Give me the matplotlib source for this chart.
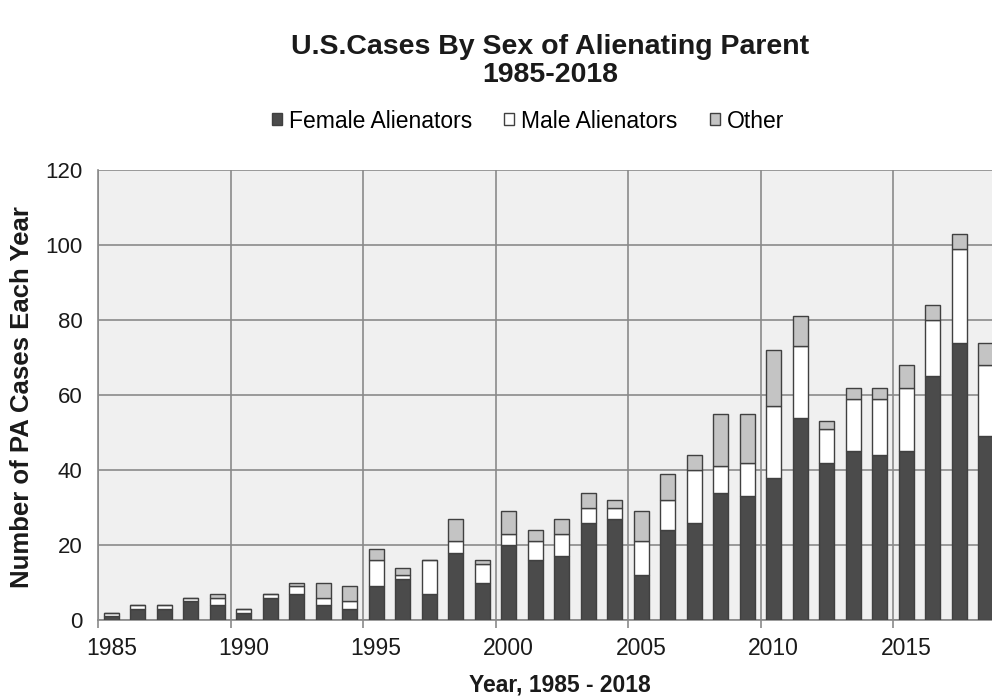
import numpy as np
import matplotlib
matplotlib.use("Agg")
import matplotlib.pyplot as plt
from matplotlib.patches import Patch

plt.rcParams['font.family'] = ['Liberation Sans', 'DejaVu Sans']

# data
years = list(range(1985, 2019))
female = [1, 3, 3, 5, 4, 2, 6, 7, 4, 3, 9, 11, 7, 18, 10, 20, 16, 17, 26, 27,
          12, 24, 26, 34, 33, 38, 54, 42, 45, 44, 45, 65, 74, 49]
male = [1, 1, 1, 1, 2, 1, 1, 2, 2, 2, 7, 1, 9, 3, 5, 3, 5, 6, 4, 3,
        9, 8, 14, 7, 9, 19, 19, 9, 14, 15, 17, 15, 25, 19]
other = [0, 0, 0, 0, 1, 0, 0, 1, 4, 4, 3, 2, 0, 6, 1, 6, 3, 4, 4, 2,
         8, 7, 4, 14, 13, 15, 8, 2, 3, 3, 6, 4, 4, 6]
series_names = ['Female Alienators', 'Male Alienators', 'Other']
tick_years = years[::5]

colors = ['#4b4b4b', '#ffffff', '#c4c4c4']
edge = '#404040'
grid_col = '#8a8a8a'

fig = plt.figure(figsize=(9.92, 6.98), dpi=100)
ax = fig.add_axes([98 / 992, 78 / 698, 901 / 992, 450 / 698])
ax.set_facecolor('#f0f0f0')

x = np.arange(len(years))
female = np.array(female)
male = np.array(male)
other = np.array(other)
bw = 0.56
ax.bar(x, female, bw, color=colors[0], edgecolor=edge, linewidth=1, zorder=3)
ax.bar(x, male, bw, bottom=female, color=colors[1], edgecolor=edge, linewidth=1, zorder=3)
ax.bar(x, other, bw, bottom=female + male, color=colors[2], edgecolor=edge, linewidth=1, zorder=3)

ax.set_xlim(-0.5, len(years) - 0.5)
ax.set_ylim(0, 120)
ax.set_yticks(range(0, 121, 20))
ax.set_xticks([years.index(y) for y in tick_years])
ax.set_xticklabels([str(y) for y in tick_years])
ax.set_xticks(np.arange(-0.5, len(years), 5), minor=True)

ax.grid(True, axis='y', which='major', color=grid_col, linewidth=1.2, zorder=0)
ax.grid(True, axis='x', which='minor', color=grid_col, linewidth=1.2, zorder=0)
ax.set_axisbelow(True)

ax.tick_params(axis='x', which='major', length=0, pad=12, labelsize=16.5, colors='#1a1a1a')
ax.tick_params(axis='x', which='minor', length=6, width=1.2, color=grid_col)
ax.tick_params(axis='y', length=0, pad=11, labelsize=16, colors='#1a1a1a')

for s in ['top', 'right']:
    ax.spines[s].set_visible(False)
for s in ['left', 'bottom']:
    ax.spines[s].set_color(grid_col)
    ax.spines[s].set_linewidth(1.2)

fig.text(550 / 992, 1 - 61 / 698, 'U.S.Cases By Sex of Alienating Parent\n1985-2018',
         ha='center', va='center', fontsize=20.5, fontweight='bold',
         linespacing=1.1, color='#1a1a1a')

handles = [Patch(facecolor=c, edgecolor=edge, linewidth=1) for c in colors]
fig.legend(handles, series_names, loc='center', ncol=3,
           bbox_to_anchor=(528 / 992, 1 - 121 / 698), frameon=False,
           fontsize=16.5, handlelength=0.45, handleheight=0.45,
           handletextpad=0.3, columnspacing=1.4)

fig.text(560 / 992, 1 - 685 / 698, 'Year, 1985 - 2018', ha='center', va='center',
         fontsize=16.5, fontweight='bold', color='#1a1a1a')
fig.text(22 / 992, 1 - 397 / 698, 'Number of PA Cases Each Year', ha='center',
         va='center', rotation=90, fontsize=18.5, fontweight='bold', color='#1a1a1a')

fig.savefig('out.png', dpi=100)
